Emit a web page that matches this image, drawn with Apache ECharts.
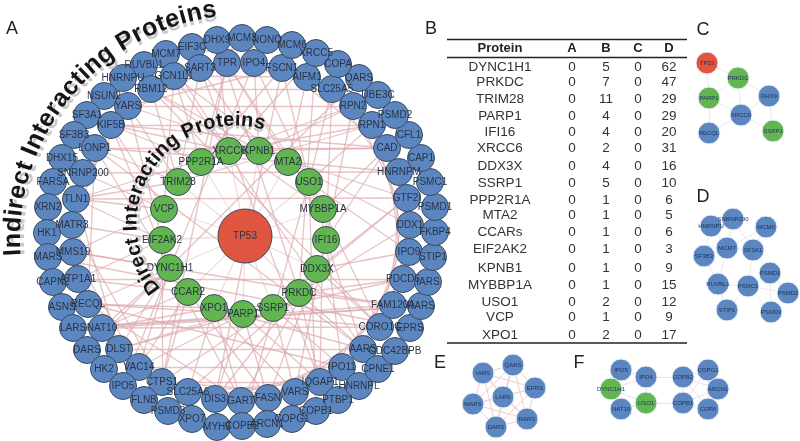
<!DOCTYPE html>
<html><head><meta charset="utf-8">
<script src="https://cdn.jsdelivr.net/npm/echarts@6/dist/echarts.min.js"></script>
<style>html,body{margin:0;padding:0;background:#fff}#main{width:800px;height:441px;filter:blur(0.5px)}</style>
</head><body><div id="main"></div>
<script>
// ---------- table (panel B) ----------
const tableHeader = ['Protein','A','B','C','D'];
const tableProteins = ['DYNC1H1','PRKDC','TRIM28','PARP1','IFI16','XRCC6','DDX3X','SSRP1','PPP2R1A','MTA2','CCARs','EIF2AK2','KPNB1','MYBBP1A','USO1','VCP','XPO1'];
const tableA = [0,0,0,0,0,0,0,0,0,0,0,0,0,0,0,0,0];
const tableB = [5,7,11,4,4,2,4,5,1,1,1,1,1,1,2,1,2];
const tableC = [0,0,0,0,0,0,0,0,0,0,0,0,0,0,0,0,0];
const tableD = [62,47,29,29,20,31,16,10,6,5,6,3,9,15,12,9,17];

// ---------- network (panel A) ----------
const hubProtein = 'TP53';
const directProteins = ['XRCC6','KPNB1','MTA2','USO1','MYBBP1A','IFI16','DDX3X','PRKDC','SSRP1','PARP1','XPO1','CCAR2','DYNC1H1','EIF2AK2','VCP','TRIM28','PPP2R1A'];
const indirectProteins = ['EIF3C','MCM7','SART3','RUVBL1','GCN1L1','HNRNPU','RBM12','NSUN2','YARS','SF3A1','KIF5B','SF3B3','LONP1','DHX15','SNRNP200','FARSA','TLN1','XRN2','HK1','MATR3','MARS','MMS19','CAPN2','ATP1A1','ASNS','RECQL','LARS','NAT10','DARS','DLST','HK2','VAC14','IPO5','CTPS1','FLNB','SLC25A6','PSMD3','XPO7','MYH9','DIS3','GART','COPB2','FASN','ARCN1','VARS','COPG1','IQGAP1','COPB1','IPO11','PTBP1','AARS','HNRNPL','CPNE1','CDC42BPB','CORO1C','EPRS','FAM120A','RARS','PDCD6','IARS','IPO9','STIP1','DDX1','FKBP4','GTF2I','PSMD1','HNRNPM','PSMC1','CAD','CAP1','RPN1','CFL1','RPN2','PSMD2','SLC25A5','UBE3C','AIFM1','QARS','FSCN1','COPA','IPO4','XRCC5','TPR','MCM6','DHX9','NONO','MCM3'];
const directTargets = {
 XRCC6:['XRCC5','DHX9','TLN1','RPN1','KIF5B','CAD','MCM7'],
 KPNB1:['IPO4','RBM12','YARS','GTF2I','RPN2','SART3'],
 MTA2:['HNRNPM','LONP1','AIFM1','GCN1L1','TPR','DDX1'],
 USO1:['COPB1','COPB2','RPN1','SLC25A5','FSCN1','IPO9'],
 MYBBP1A:['CAD','IPO4','TPR','CORO1C','IQGAP1','RBM12'],
 IFI16:['CAD','AARS','IPO11','VARS','SLC25A5','RPN2'],
 DDX3X:['IPO9','GTF2I','FASN','GART','CORO1C'],
 PRKDC:['XRCC5','DHX9','FAM120A','IQGAP1','DIS3','PDCD6','AARS','DDX1','SLC25A6','DLST'],
 SSRP1:['VARS','CTPS1','PDCD6','IPO11','GTF2I'],
 PARP1:['RECQL','DLST','VAC14','DIS3','FASN','IQGAP1','CORO1C'],
 XPO1:['NAT10','SLC25A6','GART','VARS','RECQL','AARS'],
 CCAR2:['ATP1A1','NAT10','VAC14','CTPS1','FASN'],
 DYNC1H1:['IPO5','NAT10','RECQL','MMS19','LONP1','VAC14','GART','DLST','KIF5B','IPO4'],
 EIF2AK2:['MATR3','TLN1','ATP1A1','CTPS1','YARS'],
 VCP:['SNRNP200','KIF5B','TLN1','MMS19','GCN1L1'],
 TRIM28:['RBM12','LONP1','YARS','TLN1','SART3','RPN1'],
 PPP2R1A:['TPR','GCN1L1','FSCN1','KIF5B','RPN2']
};
const indirectEdges = [
 ['SNRNP200','HNRNPM'],['NAT10','CORO1C'],['NAT10','RARS'],['LARS','FAM120A'],['RBM12','SLC25A5'],['GCN1L1','AIFM1'],['YARS','RPN2'],['KIF5B','RPN1'],['LONP1','CAD'],['TLN1','GTF2I'],
 ['ATP1A1','DLST'],['RECQL','IPO11'],['DLST','AARS'],['VAC14','IPO11'],['CTPS1','IQGAP1'],['SLC25A6','VARS'],['RECQL','GART'],['MMS19','VAC14'],['MATR3','CTPS1'],['TLN1','DLST'],
 ['LONP1','RECQL'],['KIF5B','MATR3'],['YARS','TLN1'],['SART3','KIF5B'],['TPR','YARS'],['IPO4','GCN1L1'],['FSCN1','CAD'],['AIFM1','RPN1'],['SLC25A5','GTF2I'],['RPN2','DDX1'],
 ['RPN1','IPO9'],['CAD','PDCD6'],['HNRNPM','FAM120A'],['GTF2I','CORO1C'],['DDX1','AARS'],['IPO9','IPO11'],['PDCD6','IQGAP1'],['FAM120A','VARS'],['CORO1C','FASN'],['AARS','GART'],
 ['IPO11','DIS3'],['IQGAP1','SLC25A6'],['VARS','CTPS1'],['TPR','CTPS1'],['SART3','IQGAP1'],['FSCN1','DIS3'],['RBM12','CORO1C'],['GCN1L1','AARS'],['LONP1','AARS'],['MCM7','MCM6'],
 ['LARS','RARS'],['QARS','DARS'],['MARS','EPRS'],['KIF5B','CAD'],['YARS','FSCN1'],['MMS19','FAM120A'],['ATP1A1','PDCD6']
];

// ---------- small networks (panels C to F) ----------
const panelCNames = ['TP53','PRKDC','PARP1','DHX9','XRCC5','RECQL','SSRP1'];
const panelCEdges = [['TP53','PRKDC'],['TP53','PARP1'],['PRKDC','PARP1'],['PRKDC','DHX9'],['PRKDC','XRCC5'],['PARP1','XRCC5'],['DHX9','XRCC5'],['DHX9','SSRP1'],['XRCC5','SSRP1'],['XRCC5','RECQL'],['PARP1','RECQL']];
const panelDNames = ['SNRNP200','HNRNPU','MCM6','MCM7','SF3A1','SF3B3','PSMD1','RUVBL1','PSMC1','PSMD2','STIP1','PSMD3'];
const panelDEdges = [['SNRNP200','HNRNPU'],['SNRNP200','SF3A1'],['SNRNP200','MCM7'],['MCM6','SF3A1'],['MCM6','MCM7'],['HNRNPU','SF3B3'],['HNRNPU','MCM7'],['MCM7','SF3A1'],['MCM7','RUVBL1'],['SF3B3','RUVBL1'],['SF3A1','PSMD1'],['SF3A1','PSMC1'],['RUVBL1','PSMC1'],['RUVBL1','STIP1'],['PSMC1','PSMD1'],['PSMC1','PSMD2'],['PSMC1','PSMD3'],['PSMC1','STIP1'],['PSMD1','PSMD2'],['PSMD2','PSMD3'],['PSMD1','PSMD3']];
const panelENames = ['QARS','IARS','EPRS','LARS','MARS','RARS','DARS'];
const panelEEdges = [['QARS','IARS'],['QARS','EPRS'],['QARS','LARS'],['QARS','MARS'],['QARS','RARS'],['QARS','DARS'],['IARS','EPRS'],['IARS','LARS'],['IARS','MARS'],['IARS','RARS'],['IARS','DARS'],['EPRS','LARS'],['EPRS','MARS'],['EPRS','RARS'],['EPRS','DARS'],['LARS','MARS'],['LARS','RARS'],['LARS','DARS'],['MARS','RARS'],['MARS','DARS'],['RARS','DARS']];
const panelFNames = ['IPO5','IPO4','DYNC1H1','USO1','NAT10','COPB2','COPG1','ARCN1','COPB1','COPA'];
const panelFEdges = [['IPO5','DYNC1H1'],['IPO5','IPO4'],['IPO4','DYNC1H1'],['IPO4','USO1'],['DYNC1H1','USO1'],['DYNC1H1','NAT10'],['NAT10','USO1'],['IPO4','COPB2'],['USO1','COPB1'],['COPB2','COPB1'],['COPB2','COPG1'],['COPB2','ARCN1'],['COPB2','COPA'],['COPB1','COPG1'],['COPB1','ARCN1'],['COPB1','COPA'],['COPG1','ARCN1'],['COPG1','COPA'],['ARCN1','COPA']];
const panelGreen = ['PRKDC','PARP1','SSRP1','DYNC1H1','USO1'];

// ---------- layout (separate from the data above) ----------
const layoutMain = {TP53:[245,236],
 XRCC6:[229,151],KPNB1:[259,151],MTA2:[288,162],USO1:[309,182],MYBBP1A:[323,209],IFI16:[326,240],DDX3X:[317,269],PRKDC:[299,293],SSRP1:[273,308],PARP1:[243,314],XPO1:[214,308],CCAR2:[188,292],DYNC1H1:[170,268],EIF2AK2:[162,240],VCP:[164,209],TRIM28:[178,182],PPP2R1A:[201,162],
 EIF3C:[192,47],MCM7:[166,54],SART3:[200,68],RUVBL1:[144,65],GCN1L1:[174,76],HNRNPU:[123,78],RBM12:[151,89],NSUN2:[104,96],YARS:[128,106],SF3A1:[87,115],KIF5B:[111,125],SF3B3:[74,135],LONP1:[95,148],DHX15:[62,158],SNRNP200:[83,173],FARSA:[53,182],TLN1:[76,199],XRN2:[48,207],HK1:[47,233],MATR3:[72,225],MARS:[48,257],MMS19:[73,252],CAPN2:[53,282],ATP1A1:[78,279],ASNS:[62,307],RECQL:[88,304],LARS:[73,328],NAT10:[102,328],DARS:[87,350],DLST:[119,349],HK2:[104,369],VAC14:[139,367],IPO5:[123,386],CTPS1:[162,382],FLNB:[144,400],SLC25A6:[188,392],PSMD3:[168,411],XPO7:[192,419],MYH9:[217,427],DIS3:[215,399],GART:[241,401],COPB2:[242,426],FASN:[268,398],ARCN1:[267,424],VARS:[295,392],COPG1:[292,419],IQGAP1:[320,382],COPB1:[316,411],IPO11:[342,367],PTBP1:[338,400],AARS:[363,349],HNRNPL:[359,386],CPNE1:[378,369],CDC42BPB:[395,351],CORO1C:[380,327],EPRS:[410,328],FAM120A:[393,305],RARS:[421,306],PDCD6:[403,279],IARS:[428,282],IPO9:[409,252],STIP1:[433,257],DDX1:[410,225],FKBP4:[435,232],GTF2I:[407,198],PSMD1:[435,207],HNRNPM:[399,172],PSMC1:[430,182],CAD:[387,148],CAP1:[421,158],RPN1:[372,125],CFL1:[409,135],RPN2:[353,106],PSMD2:[395,115],SLC25A5:[332,89],UBE3C:[378,95],AIFM1:[307,77],QARS:[359,78],FSCN1:[282,68],COPA:[338,64],IPO4:[254,63],XRCC5:[316,53],TPR:[227,63],MCM6:[292,45],DHX9:[217,40],NONO:[267,40],MCM3:[242,38]};
const layoutC = {TP53:[707,63],PRKDC:[738,78],PARP1:[709,98],DHX9:[769,96],XRCC5:[741,115],RECQL:[709,133],SSRP1:[773,131]};
const layoutD = {SNRNP200:[733,219],HNRNPU:[711,226],MCM6:[766,227],MCM7:[727,248],SF3A1:[753,250],SF3B3:[704,256],PSMD1:[770,273],RUVBL1:[718,284],PSMC1:[748,286],PSMD2:[788,293],STIP1:[727,310],PSMD3:[771,312]};
const layoutE = {QARS:[513,365],IARS:[483,373],EPRS:[535,388],LARS:[503,397],MARS:[473,404],RARS:[527,419],DARS:[496,427]};
const layoutF = {IPO5:[621,370],IPO4:[646,377],DYNC1H1:[611,389],USO1:[646,403],NAT10:[621,409],COPB2:[683,377],COPG1:[708,370],ARCN1:[718,389],COPB1:[683,403],COPA:[708,409]};

const BLUE='#5b86c0', GREEN='#62b551', RED='#e05540';
const font='"Liberation Sans",Arial,sans-serif';

const mainNodes = (names,color,size)=>names.map(n=>({name:n,value:layoutMain[n],symbolSize:size,itemStyle:{color}}));
const mainData = [...mainNodes(indirectProteins,BLUE,27),...mainNodes(directProteins,GREEN,27),...mainNodes([hubProtein],RED,54)];
const mainLinks = [];
directProteins.forEach(p=>mainLinks.push({source:hubProtein,target:p,lineStyle:{opacity:0.4}}));
Object.keys(directTargets).forEach(p=>directTargets[p].forEach(t=>mainLinks.push({source:p,target:t})));
indirectEdges.forEach(e=>mainLinks.push({source:e[0],target:e[1]}));

function panelSeries(names,edges,layout,edgeColor){
  return {type:'graph',coordinateSystem:'cartesian2d',xAxisIndex:0,yAxisIndex:0,silent:true,animation:false,
    data:names.map(n=>({name:n,value:layout[n],symbolSize:22,itemStyle:{color:n==='TP53'?RED:(panelGreen.includes(n)?GREEN:BLUE)}})),
    links:edges.map(e=>({source:e[0],target:e[1]})),
    itemStyle:{borderColor:'#eef2f8',borderWidth:1},
    lineStyle:{color:edgeColor,width:1,opacity:1,curveness:0},
    label:{show:true,position:'inside',formatter:'{b}',fontSize:6,fontFamily:font,color:'#1c3560'}};
}

// one glyph per text element; a grey copy sits just inside the arc as the drop shadow
function arcText(str,cx,cy,r,a0,a1,size,shadow){
  const ctx=document.createElement('canvas').getContext('2d');
  const f=`bold ${size}px ${font}`;ctx.font=f;
  const total=ctx.measureText(str).width;let run=0;const out=[];
  for(const ch of str){
    const w=ctx.measureText(ch).width;
    const t=(run+w/2)/total;run+=w;
    if(ch===' ')continue;
    const a=(a0+(a1-a0)*t)*Math.PI/180;
    const put=(rr,fill,z)=>out.push({type:'text',x:cx+rr*Math.cos(a),y:cy+rr*Math.sin(a),rotation:-(a+Math.PI/2),z,silent:true,
      style:{text:ch,font:f,fill,align:'center',verticalAlign:'middle'}});
    put(r-shadow,'#c9c9c9',19);
    put(r,'#151515',20);
  }
  return out;
}

const graphics=[];
function txt(s,x,y,size,weight,color){graphics.push({type:'text',x,y,z:20,silent:true,style:{text:s,font:`${weight||'normal'} ${size}px ${font}`,fill:color||'#333',align:'center',verticalAlign:'middle'}});}
[['A',12,29],['B',431,29],['C',703,30],['D',703,197],['E',440,363],['F',579,363]].forEach(p=>txt(p[0],p[1],p[2],18,'normal','#222'));
graphics.push(...arcText('Indirect Interacting Proteins',245,240,232,176,263,25,4));
graphics.push(...arcText('Direct Interacting Proteins',235,224,104,139,287,20,3));
const colX=[500,572,606,638,669];
const rowY=[67,82,99,116,132,148,166,183,200,215,232,249,268,285,302,317,335];
tableHeader.forEach((h,i)=>txt(h,colX[i],48,13,'bold','#222'));
tableProteins.forEach((p,i)=>{
  txt(p,colX[0],rowY[i],13.5);
  [tableA,tableB,tableC,tableD].forEach((col,j)=>txt(String(col[i]),colX[j+1],rowY[i],13.5));
});
[39.5,57.5,343].forEach(y=>graphics.push({type:'line',z:20,silent:true,shape:{x1:447,y1:y,x2:687,y2:y},style:{stroke:'#222',lineWidth:1.4}}));

const chart=echarts.init(document.getElementById('main'),null,{renderer:'canvas'});
chart.setOption({
  animation:false,backgroundColor:'#fff',
  grid:{left:0,right:0,top:0,bottom:0},
  xAxis:{type:'value',min:0,max:800,show:false},
  yAxis:{type:'value',min:0,max:441,inverse:true,show:false},
  series:[
    {type:'graph',coordinateSystem:'cartesian2d',xAxisIndex:0,yAxisIndex:0,silent:true,animation:false,
     data:mainData,links:mainLinks,
     itemStyle:{borderColor:'#3c4a5c',borderWidth:1},
     lineStyle:{color:'#dca9ad',width:1.3,opacity:0.7,curveness:0},
     label:{show:true,position:'inside',formatter:'{b}',fontSize:10,fontFamily:font,color:'#2a3446'}},
    panelSeries(panelCNames,panelCEdges,layoutC,'#ecebeb'),
    panelSeries(panelDNames,panelDEdges,layoutD,'#efe8e8'),
    panelSeries(panelENames,panelEEdges,layoutE,'#f0cfd0'),
    panelSeries(panelFNames,panelFEdges,layoutF,'#efe0e2')
  ],
  graphic:{elements:graphics}
});
</script></body></html>
